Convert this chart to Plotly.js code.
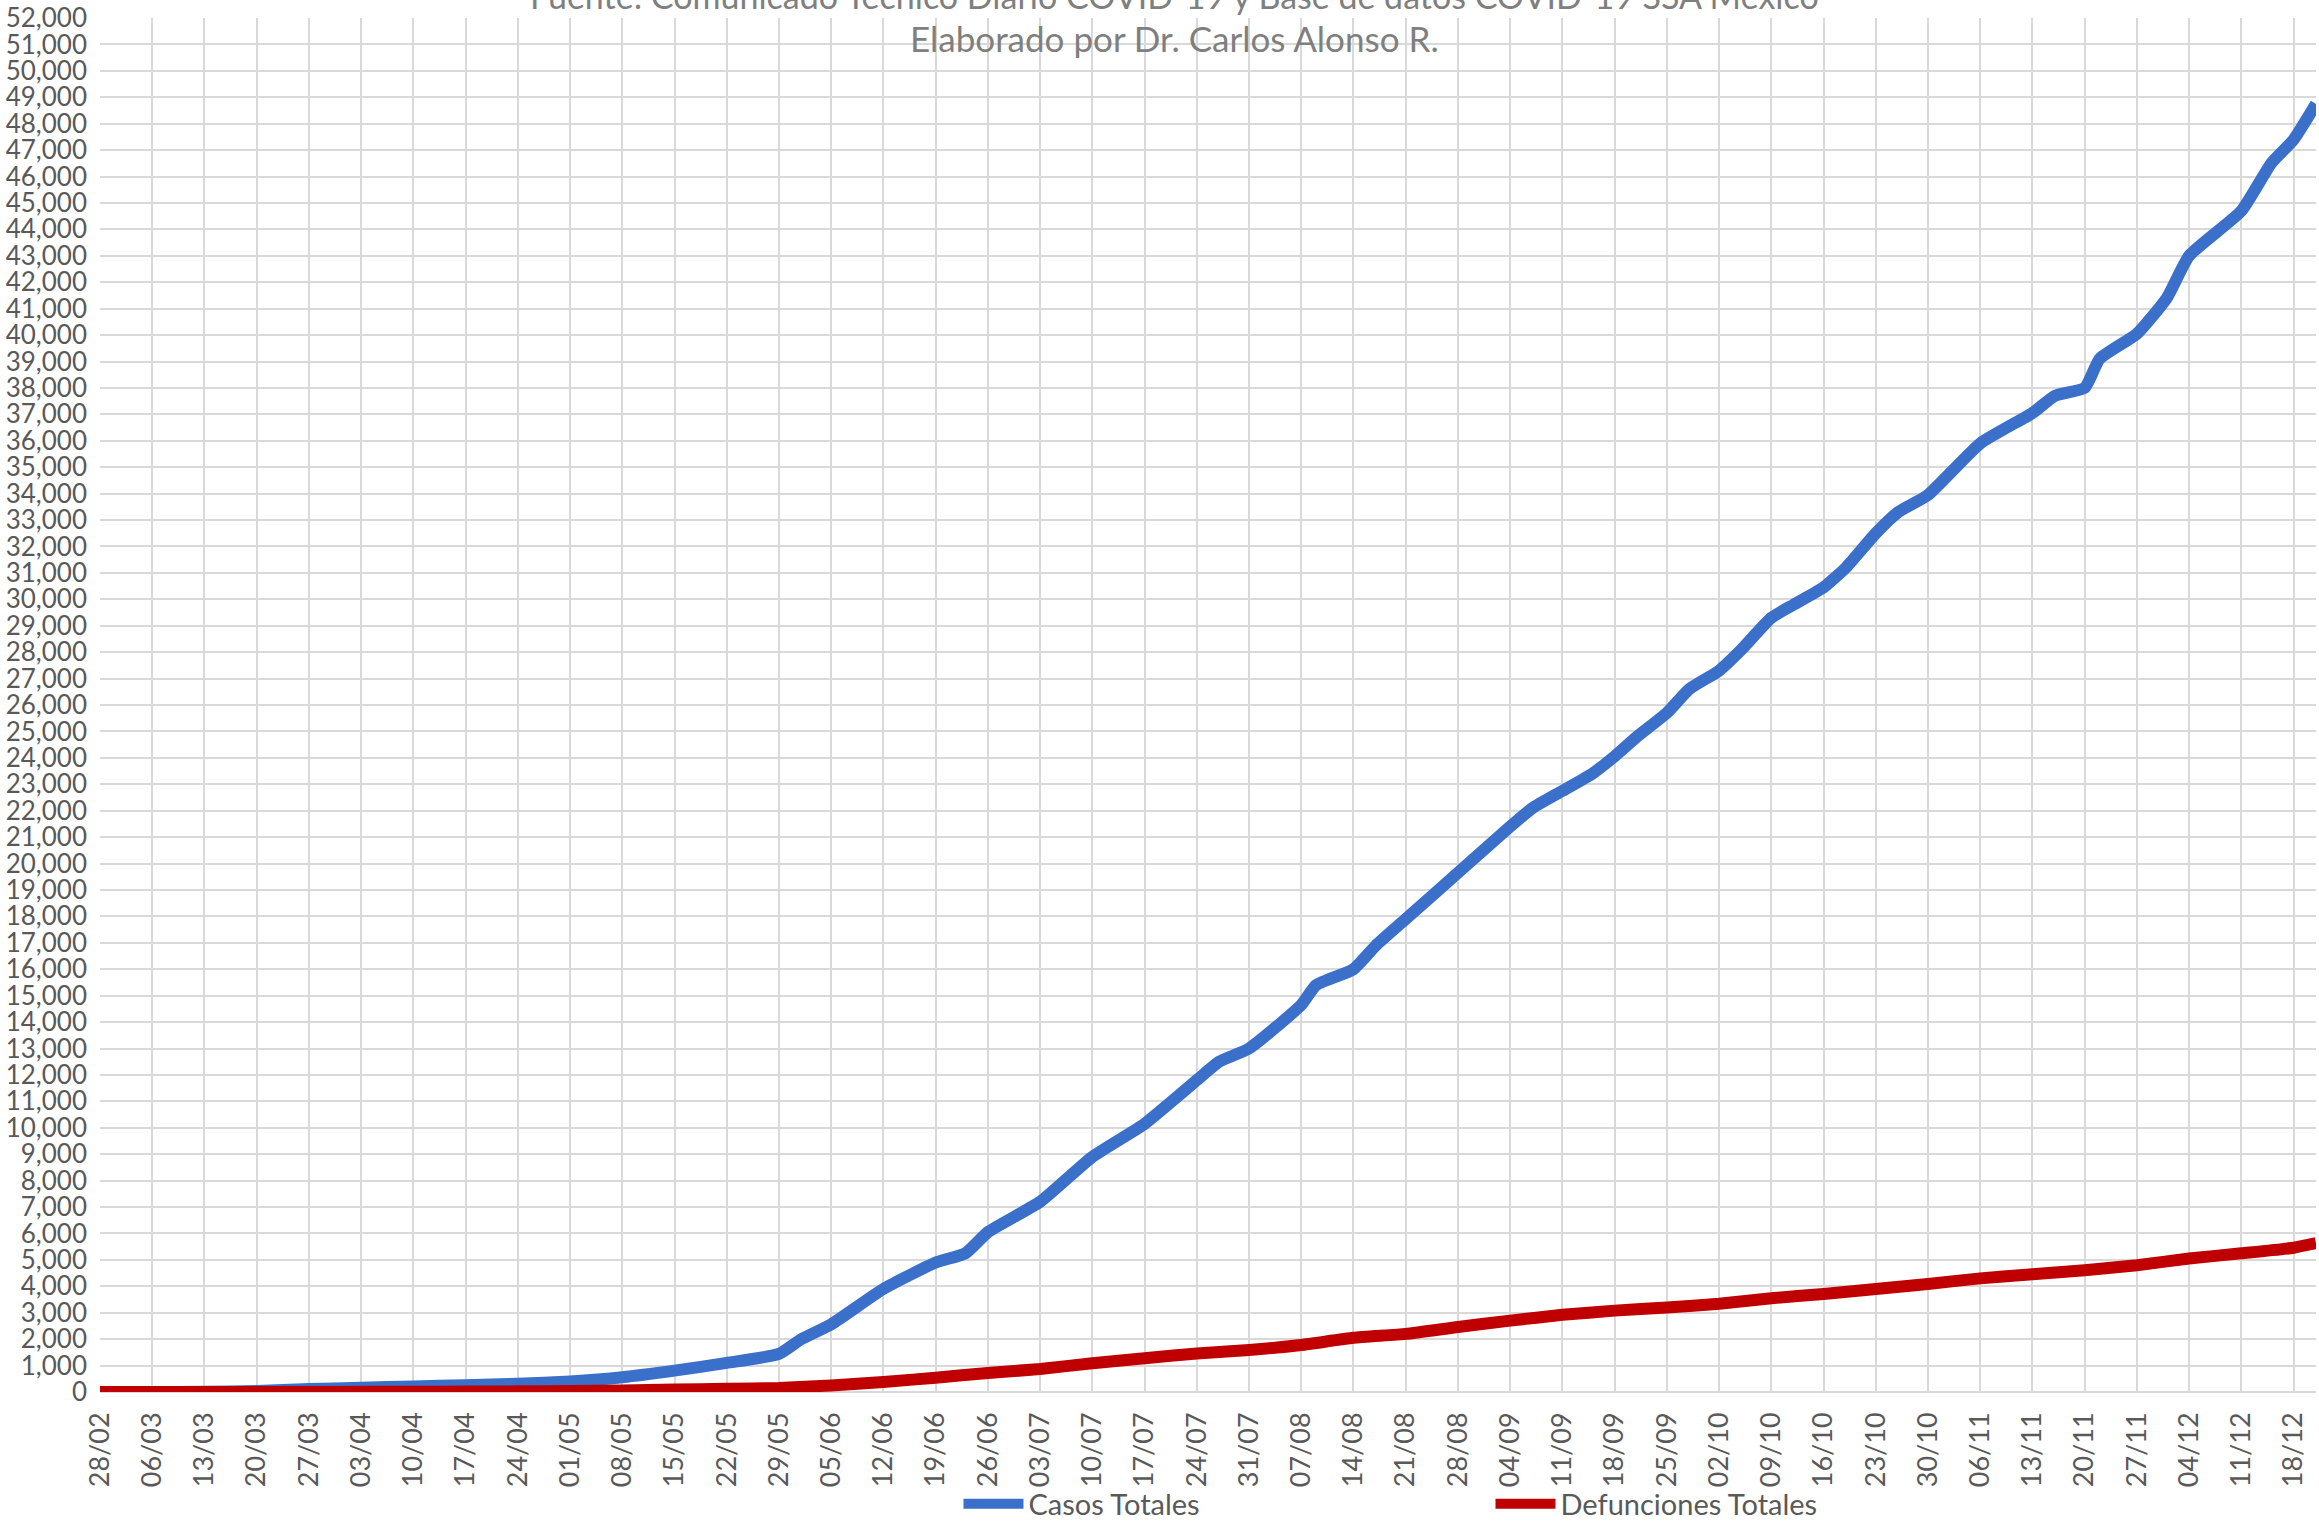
<!DOCTYPE html>
<html>
<head>
<meta charset="utf-8">
<script src="https://cdn.plot.ly/plotly-3.0.1.min.js"></script>
<style>html,body{margin:0;padding:0;background:#fff;}#chart{width:2319px;height:1533px;}</style>
</head>
<body>
<div id="chart"></div>
<script>
// Casos Totales
const fechasCasos = [
  "2020-02-28","2020-03-06","2020-03-13","2020-03-20","2020-03-27","2020-04-03","2020-04-10","2020-04-17",
  "2020-04-24","2020-05-01","2020-05-08","2020-05-15","2020-05-22","2020-05-29","2020-06-01","2020-06-05",
  "2020-06-12","2020-06-19","2020-06-23","2020-06-26","2020-07-03","2020-07-10","2020-07-17","2020-07-24",
  "2020-07-27","2020-07-31","2020-08-07","2020-08-09","2020-08-14","2020-08-17","2020-08-21","2020-08-28",
  "2020-09-04","2020-09-07","2020-09-11","2020-09-15","2020-09-18","2020-09-21","2020-09-25","2020-09-28",
  "2020-10-02","2020-10-05","2020-10-09","2020-10-12","2020-10-16","2020-10-19","2020-10-23","2020-10-26",
  "2020-10-30","2020-11-06","2020-11-13","2020-11-16","2020-11-20","2020-11-22","2020-11-27","2020-12-01",
  "2020-12-04","2020-12-11","2020-12-15","2020-12-18","2020-12-21"
];
const casosTotales = [
  0,0,5,40,110,160,210,260,
  310,400,560,810,1100,1440,2000,2560,
  3900,4900,5250,6050,7200,8900,10150,11800,
  12500,13000,14650,15400,16000,16900,17900,19650,
  21400,22100,22750,23400,24060,24800,25700,26600,
  27300,28100,29300,29800,30450,31200,32500,33300,
  33950,35900,37050,37700,38000,39100,40050,41400,
  43000,44700,46500,47400,48750
];

// Defunciones Totales
const fechasDefunciones = [
  "2020-02-28","2020-03-13","2020-03-20","2020-03-27","2020-04-03","2020-04-10","2020-04-17","2020-04-24",
  "2020-05-01","2020-05-08","2020-05-15","2020-05-22","2020-05-29","2020-06-05","2020-06-12","2020-06-19",
  "2020-06-26","2020-07-03","2020-07-10","2020-07-17","2020-07-24","2020-07-31","2020-08-07","2020-08-14",
  "2020-08-21","2020-08-28","2020-09-04","2020-09-11","2020-09-18","2020-09-25","2020-10-02","2020-10-09",
  "2020-10-16","2020-10-23","2020-10-30","2020-11-06","2020-11-13","2020-11-20","2020-11-27","2020-12-04",
  "2020-12-11","2020-12-18","2020-12-21"
];
const defuncionesTotales = [
  0,0,1,3,6,10,15,25,
  40,60,90,120,150,250,380,540,
  720,870,1090,1280,1460,1590,1780,2050,
  2200,2460,2700,2920,3080,3200,3340,3550,
  3710,3900,4090,4300,4460,4610,4800,5050,
  5250,5460,5630
];

const nombresSeries = ["Casos Totales", "Defunciones Totales"];
const tituloLineas = [
  "Fuente: Comunicado Técnico Diario COVID-19 y Base de datos COVID-19 SSA México",
  "Elaborado por Dr. Carlos Alonso R."
];
const rangoFechas = ["2020-02-28", "2020-12-21"];
const rangoValores = [0, 52000];

const FONT = "Lato, 'Open Sans', sans-serif";
const gridColor = "#d9d9d9";

const traces = [
  {
    x: fechasCasos, y: casosTotales, name: nombresSeries[0],
    type: "scatter", mode: "lines",
    line: {color: "#3A6FCA", width: 12, shape: "spline", smoothing: 0.5}
  },
  {
    x: fechasDefunciones, y: defuncionesTotales, name: nombresSeries[1],
    type: "scatter", mode: "lines",
    line: {color: "#C00000", width: 12, shape: "spline", smoothing: 0.5}
  }
];

const layout = {
  width: 2319, height: 1533,
  margin: {l: 100, r: 3, t: 18, b: 129},
  paper_bgcolor: "#ffffff", plot_bgcolor: "#ffffff",
  font: {family: FONT, color: "#595959", size: 26},
  showlegend: true,
  legend: {
    orientation: "h", x: 0.3874, xanchor: "left", y: -0.0815, yanchor: "middle",
    font: {family: FONT, size: 29, color: "#595959"},
    entrywidth: 457, entrywidthmode: "pixels", itemwidth: 60,
    bgcolor: "rgba(0,0,0,0)"
  },
  xaxis: {
    type: "date", range: rangoFechas,
    tick0: "2020-02-28", dtick: 7 * 86400000,
    tickformat: "%d/%m", tickangle: -90,
    showgrid: true, gridcolor: gridColor, gridwidth: 2,
    zeroline: false, showline: false, ticks: "",
    ticklabelstandoff: 14,
    tickfont: {family: FONT, size: 27, color: "#595959"}
  },
  yaxis: {
    range: rangoValores, tick0: 0, dtick: 1000, tickformat: ",d",
    showgrid: true, gridcolor: gridColor, gridwidth: 2,
    zeroline: true, zerolinecolor: gridColor, zerolinewidth: 2,
    showline: false, ticks: "", ticklabelstandoff: 12,
    tickfont: {family: FONT, size: 26, color: "#595959"}
  },
  annotations: [
    {text: tituloLineas[0], xref: "paper", yref: "paper", x: 0.485, y: 1.0166,
     xanchor: "center", yanchor: "middle", showarrow: false,
     font: {family: FONT, size: 34, color: "#7f7f7f"}},
    {text: tituloLineas[1], xref: "paper", yref: "paper", x: 0.485, y: 0.9856,
     xanchor: "center", yanchor: "middle", showarrow: false,
     font: {family: FONT, size: 35, color: "#7f7f7f"}}
  ]
};

Plotly.newPlot("chart", traces, layout, {displayModeBar: false, staticPlot: true});
</script>
</body>
</html>
